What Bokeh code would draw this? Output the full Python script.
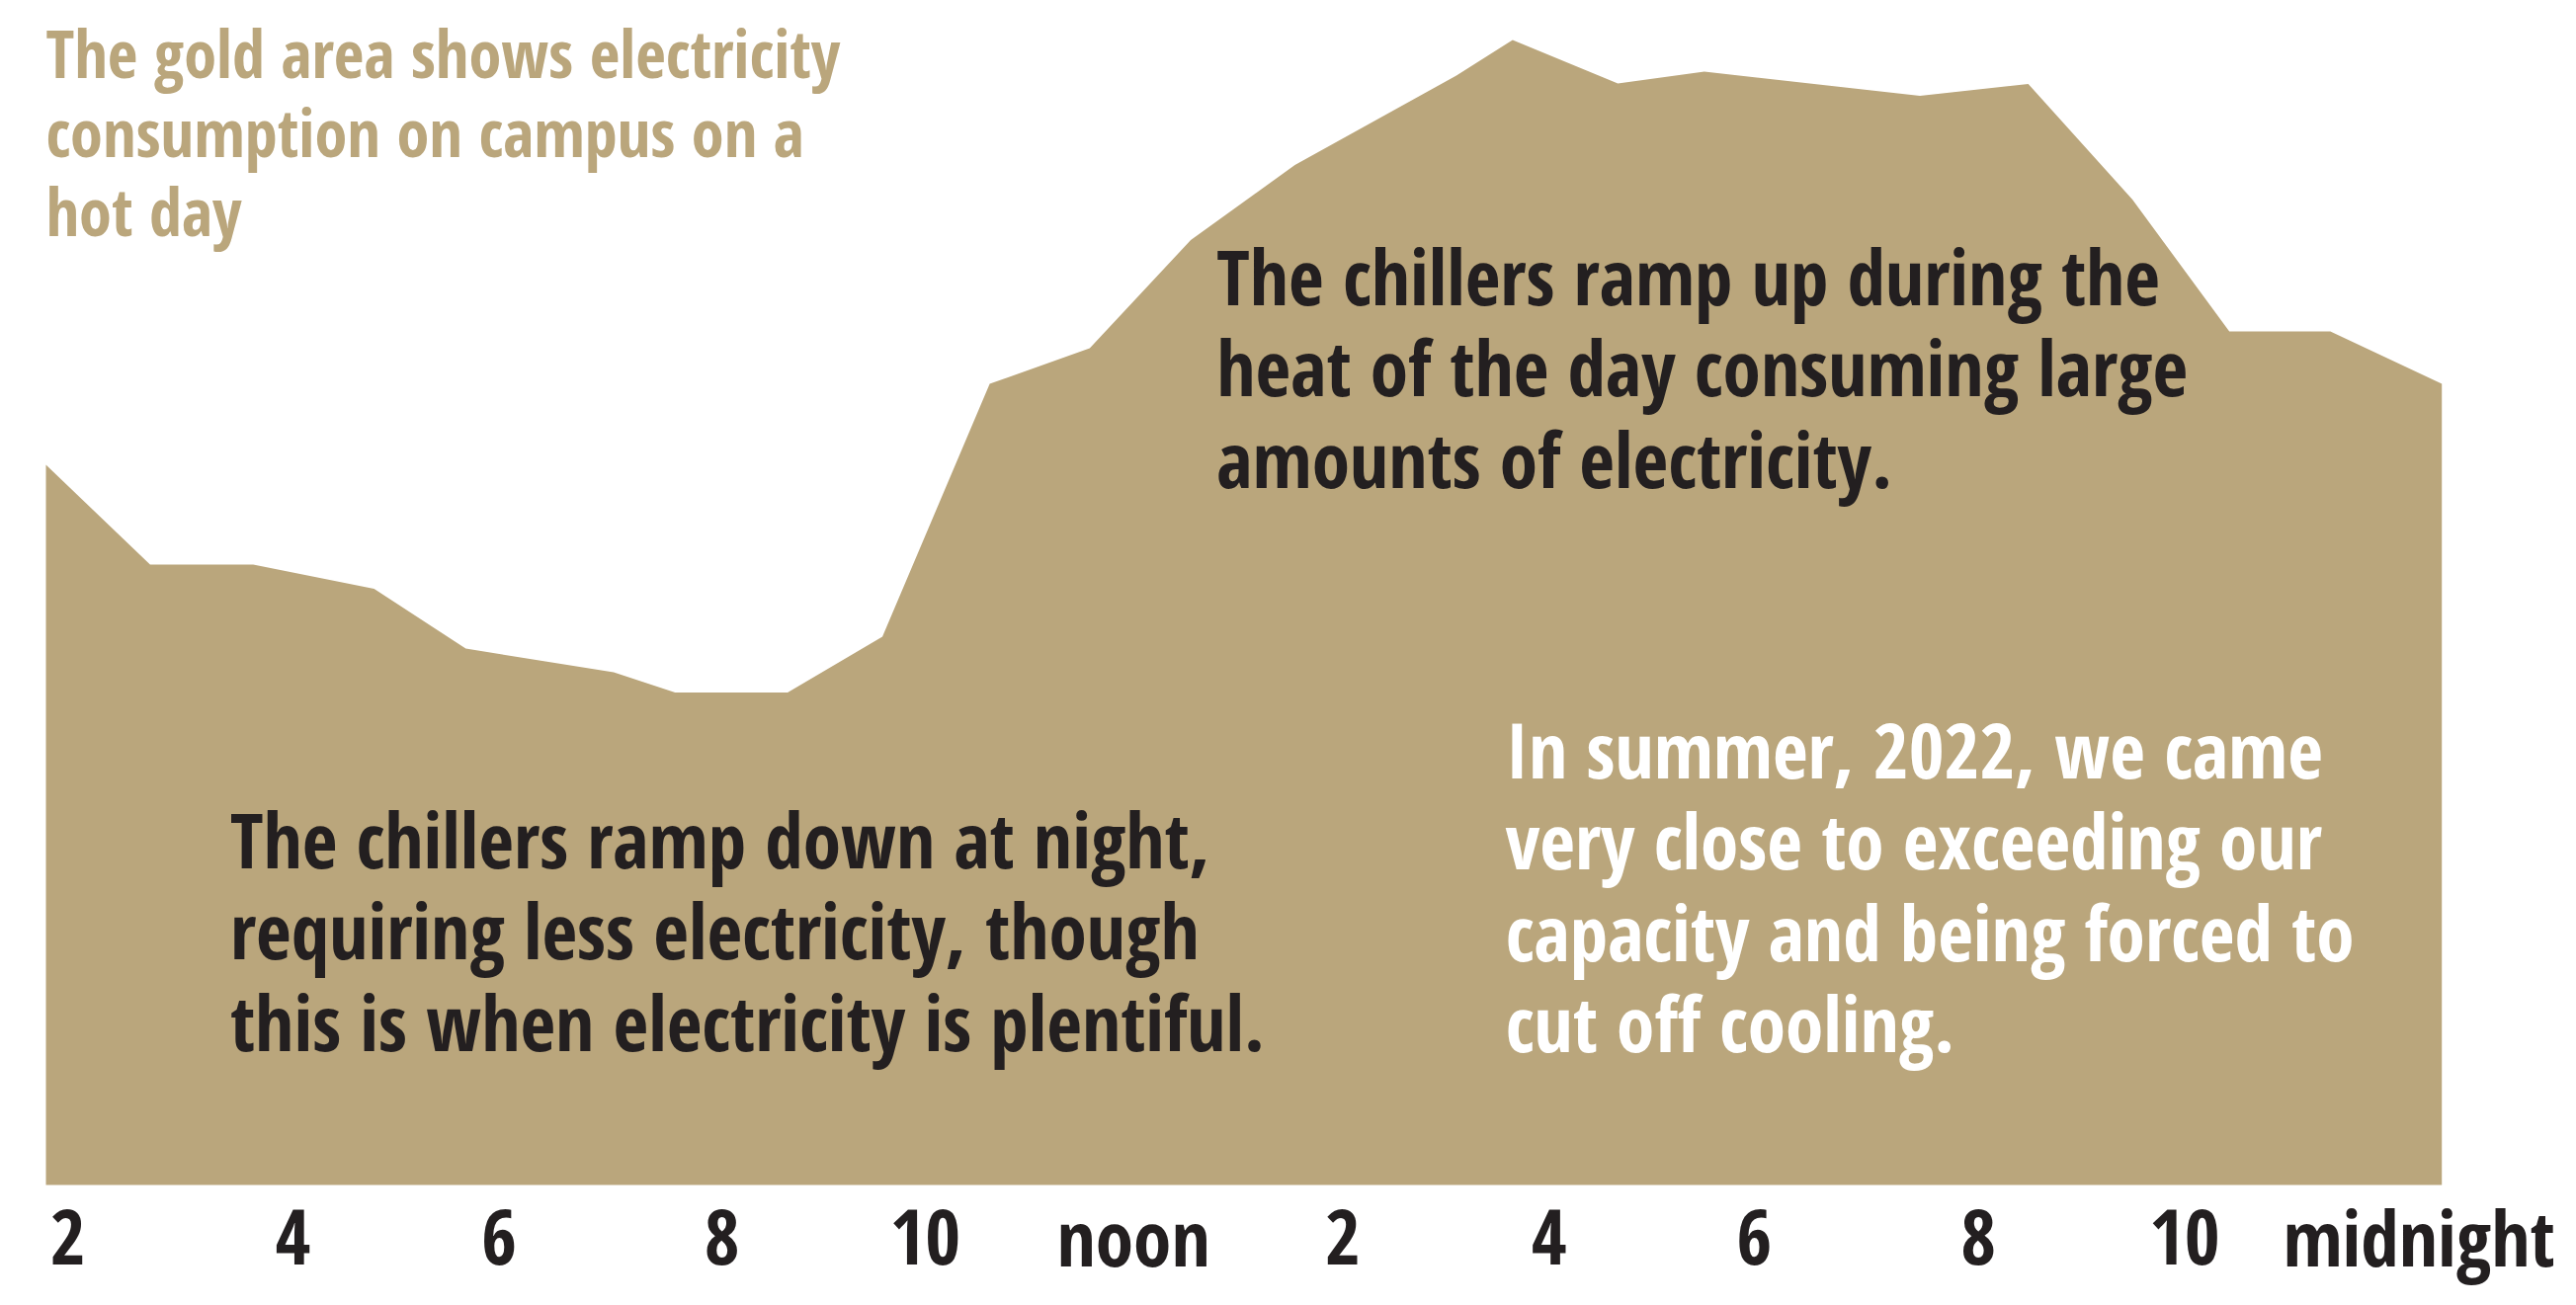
from bokeh.plotting import figure
from bokeh.embed import file_html
from bokeh.resources import INLINE
from bokeh.core.properties import value
from bokeh.models import Range1d

# ---- data: campus electricity use on a hot day (hour of day, MW) ----
hours = [1.00, 2.00, 2.99, 4.15, 5.03, 6.45, 7.04, 8.12, 9.03, 10.06, 11.02, 11.99,
         12.99, 14.54, 15.08, 16.09, 16.92, 18.99, 20.03, 21.03, 21.96, 22.93, 24.00]
mw = [14.58, 12.56, 12.56, 12.07, 10.86, 10.38, 9.97, 9.97, 11.10, 16.22, 16.94, 19.13,
      20.65, 22.46, 23.18, 22.30, 22.54, 22.05, 22.29, 19.95, 17.28, 17.28, 16.22]

tick_hours = [1.21, 3.37, 5.35, 7.49, 9.44, 11.44, 13.45, 15.43, 17.40, 19.55, 21.53, 23.78]
tick_labels = ["2", "4", "6", "8", "10", "noon", "2", "4", "6", "8", "10", "midnight"]

title_lines = ["The gold area shows electricity", "consumption on campus on a", "hot day"]
night_lines = ["The chillers ramp down at night,", "requiring less electricity, though",
               "this is when electricity is plentiful."]
day_lines = ["The chillers ramp up during the", "heat of the day consuming large",
             "amounts of electricity."]
capacity_lines = ["In summer, 2022, we came", "very close to exceeding our",
                  "capacity and being forced to", "cut off cooling."]

GOLD = "#BAA67C"
DARK = "#231F20"
FONT = value("Open Sans Condensed")

p = figure(width=2591, height=1305, output_backend="svg", toolbar_location=None,
           x_range=Range1d(0.5637, 25.141), y_range=Range1d(-2.12, 23.98),
           min_border=0, min_border_left=0, min_border_right=0,
           min_border_top=0, min_border_bottom=0)
p.axis.visible = False
p.grid.visible = False
p.outline_line_color = None
p.background_fill_color = "white"

p.varea(x=hours, y1=0, y2=mw, fill_color=GOLD)

def block(lines, x, y0, size, color, step):
    p.text(x=[x] * len(lines), y=[y0 - i * step for i in range(len(lines))], text=lines,
           text_font=FONT, text_font_style="bold", text_font_size=size,
           text_color=color, text_align="left", text_baseline="alphabetic")

block(title_lines, 0.999, 22.938, "66.5px", GOLD, 1.60)
block(day_lines, 12.239, 18.42, "77.5px", DARK, 1.857)
block(night_lines, 2.769, 7.02, "77.5px", DARK, 1.857)
block(capacity_lines, 15.013, 8.84, "77.5px", "white", 1.852)

# x-axis tick labels (drawn below the area)
p.text(x=tick_hours, y=[-1.04] * len(tick_hours), text=tick_labels,
       text_font=FONT, text_font_style="bold", text_font_size="77.5px",
       text_color=DARK, text_align="center", text_baseline="alphabetic")

open("out.html", "w").write(file_html(p, INLINE))
